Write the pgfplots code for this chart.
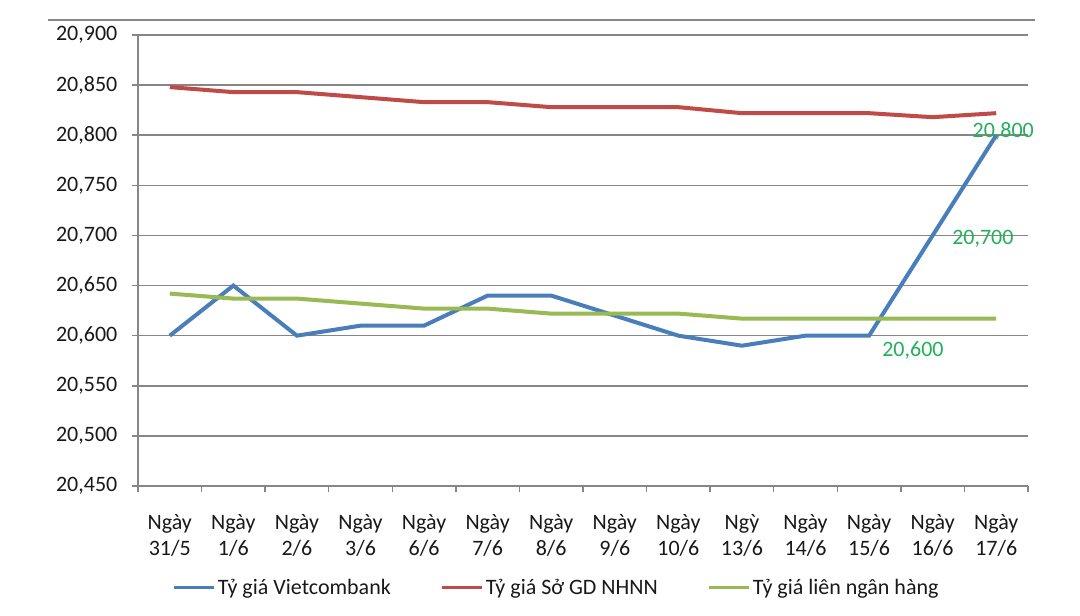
\documentclass[border=0pt]{standalone}
\usepackage{fontspec}
\setmainfont{Carlito}
\usepackage{pgfplots}
\pgfplotsset{compat=1.18}
\definecolor{vcb}{HTML}{4A7EBB}
\definecolor{sgd}{HTML}{BE4B48}
\definecolor{lnh}{HTML}{98B954}
\definecolor{grd}{HTML}{868686}
\definecolor{lbl}{HTML}{22B05C}
\newcommand{\chf}{\fontsize{16.5}{19}\selectfont}
\begin{document}
\begin{tikzpicture}
\useasboundingbox (0pt,0pt) rectangle (810pt,461.25pt);
\clip (0pt,0pt) rectangle (810pt,461.25pt);
\fill[white] (0pt,0pt) rectangle (810pt,461.25pt);
\draw[grd, line width=1.2pt] (36pt,446.25pt) -- (776.25pt,446.25pt);
\begin{axis}[
  at={(103.5pt,96.75pt)}, anchor=south west,
  scale only axis, width=667.5pt, height=338.25pt,
  xmin=-0.5, xmax=13.5, ymin=20450, ymax=20900,
  axis x line*=bottom, axis y line*=left,
  axis line style={grd, line width=1.1pt},
  xtick={0,...,13},
  xticklabels={{Ngày\\31/5},{Ngày\\1/6},{Ngày\\2/6},{Ngày\\3/6},{Ngày\\6/6},{Ngày\\7/6},{Ngày\\8/6},{Ngày\\9/6},{Ngày\\10/6},{Ngỳ\\13/6},{Ngày\\14/6},{Ngày\\15/6},{Ngày\\16/6},{Ngày\\17/6}},
  xticklabel style={align=center, font=\chf, text=black!90, yshift=-13.5pt},
  major x tick style={draw=none},
  minor xtick={-0.5,0.5,...,13.5},
  ytick={20450,20500,...,20900},
  scaled y ticks=false,
  yticklabel style={font=\chf, text=black!90, xshift=-7.5pt, /pgf/number format/fixed, /pgf/number format/1000 sep={,}, /pgf/number format/assume math mode=true},
  tick align=outside,
  tick style={grd, line width=1.1pt},
  major tick length=4.5pt, minor tick length=4.5pt,
  ymajorgrids, grid style={grd, line width=1.1pt},
  legend style={at={(0.0382,-0.226)}, anchor=west, draw=none, fill=none, font=\chf, text=black!90, legend columns=3, inner xsep=0pt,
    /tikz/every even column/.append style={column sep=35pt}},
  legend image code/.code={\draw[#1, line width=2.2pt] (0pt,0pt) -- (30pt,0pt);},
  clip=false,
]
\addplot[vcb, line width=3pt] coordinates {
(0,20600) (1,20650) (2,20600) (3,20610) (4,20610) (5,20640) (6,20640) (7,20620) (8,20600) (9,20590) (10,20600) (11,20600) (12,20700) (13,20800)};
\addlegendentry{Tỷ giá Vietcombank}
\addplot[sgd, line width=3pt] coordinates {
(0,20848) (1,20843) (2,20843) (3,20838) (4,20833) (5,20833) (6,20828) (7,20828) (8,20828) (9,20822) (10,20822) (11,20822) (12,20818) (13,20822)};
\addlegendentry{Tỷ giá Sở GD NHNN}
\addplot[lnh, line width=3pt] coordinates {
(0,20642) (1,20637) (2,20637) (3,20632) (4,20627) (5,20627) (6,20622) (7,20622) (8,20622) (9,20617) (10,20617) (11,20617) (12,20617) (13,20617)};
\addlegendentry{Tỷ giá liên ngân hàng}
\node[lbl, font=\chf] at (axis cs:11.69,20585) {20,600};
\node[lbl, font=\chf] at (axis cs:12.79,20697) {20,700};
\node[lbl, font=\chf] at (axis cs:13.11,20804) {20,800};
\end{axis}
\end{tikzpicture}
\end{document}
